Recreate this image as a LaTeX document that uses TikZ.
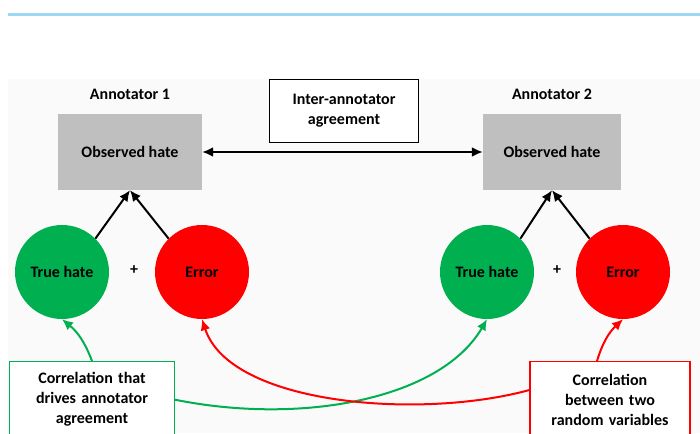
\documentclass[tikz,border=0pt]{standalone}
\usepackage{fontspec}
\setmainfont{Carlito}
\usetikzlibrary{positioning,arrows.meta}
\definecolor{hategreen}{HTML}{00B050}
\definecolor{hatered}{HTML}{FF0000}
\definecolor{boxgray}{HTML}{BFBFBF}
\definecolor{rulerblue}{HTML}{9DD9F5}
\definecolor{paper}{HTML}{FAFAFA}

\begin{document}
\begin{tikzpicture}[x=1pt, y=-1pt, node distance=11pt,
  every node/.style={font=\bfseries\fontsize{16}{20}\selectfont},
  obsbox/.style={fill=boxgray, minimum width=144pt, minimum height=76pt},
  hatecircle/.style={circle, fill=hategreen, minimum size=94pt},
  errcircle/.style={circle, fill=hatered, minimum size=94pt},
  notebox/.style={draw, line width=1.4pt, fill=white, align=center, minimum height=76pt, anchor=north},
  tip/.style={-{Latex[length=11pt,width=10pt]}, line width=2pt}]
\useasboundingbox (0,0) rectangle (700,433);
\fill[white] (0,0) rectangle (700,433);
\fill[paper] (8,79) rectangle (700,433);
\draw[rulerblue, line width=3pt] (8,15) -- (700,15);

\node[obsbox] (obs1) at (130,152) {Observed hate};
\node[obsbox, minimum width=138pt] (obs2) at (552,152) {Observed hate};
\node[above=of obs1] (ann1) {Annotator 1};
\node[above=of obs2] (ann2) {Annotator 2};
\node[draw, line width=1.4pt, fill=white, align=center, minimum width=149pt, minimum height=63pt] (iaa) at (344,111) {Inter-annotator\\agreement};

\node[hatecircle] (true1) at (62,272) {True hate};
\node[errcircle] (err1) at (202,272) {Error};
\node (plus1) at (134,270) {+};
\node[hatecircle] (true2) at (487,272) {True hate};
\node[errcircle] (err2) at (623,272) {Error};
\node (plus2) at (557,270) {+};

\node[notebox, draw=hategreen, text width=158pt] (drive) at (92,361) {Correlation that\\drives annotator\\agreement};
\node[notebox, draw=hatered, text width=153pt] (random) at (610,361) {Correlation\\between two\\random variables};

% observed hate = true hate + error
\draw[{Latex[length=11pt,width=10pt]}-{Latex[length=11pt,width=10pt]}, line width=2pt] (obs1) -- (obs2);
\draw[tip] (true1.45) -- (obs1.south);
\draw[tip] (err1.135) -- (obs1.south);
\draw[tip] (true2.45) -- (obs2.south);
\draw[tip] (err2.135) -- (obs2.south);

% correlations
\draw[tip, hategreen] (drive.north) to[bend right=15] (true1.south);
\draw[tip, hategreen] (drive.east) .. controls (300,425) and (440,400) .. (true2.south);
\draw[tip, hatered] (random.west |- 0,390) .. controls (420,420) and (230,405) .. (err1.south);
\draw[tip, hatered] ([xshift=-13pt]random.north) to[bend left=15] (err2.south);
\end{tikzpicture}
\end{document}
